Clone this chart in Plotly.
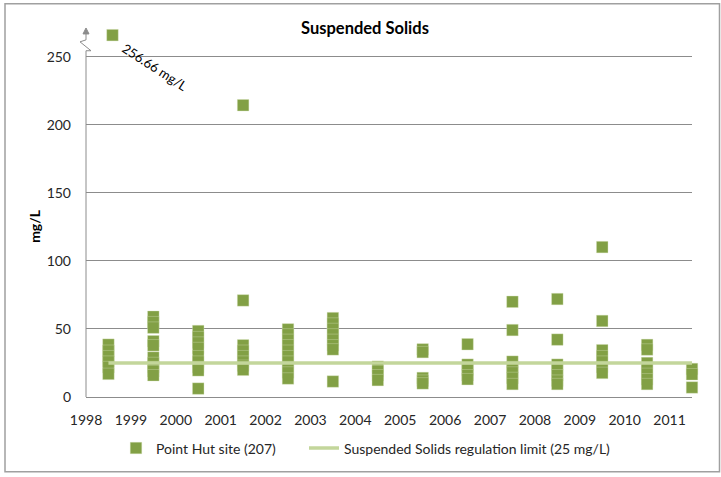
import plotly.graph_objects as go

# ---- data ----
years = [1998, 1999, 2000, 2001, 2002, 2003, 2004, 2005, 2006, 2007, 2008, 2009, 2010, 2011]
vals_1998 = [38.5, 34, 30, 26, 22, 17]
vals_1999 = [59, 55, 51, 41, 38, 29, 25, 22, 19, 16]
vals_2000 = [48.5, 44, 40, 36, 30, 26, 22, 19.6, 6.2]
vals_2001 = [214.5, 71, 38, 34, 30, 26, 23, 20]
vals_2002 = [49.7, 46, 42, 38, 34, 30, 26, 22, 18, 13.6]
vals_2003 = [58, 54, 50, 46, 42, 38, 35, 11.4]
vals_2004 = [22.3, 19, 16, 12.4]
vals_2005 = [35, 33, 14, 12, 10]
vals_2006 = [38.8, 23.8, 20, 16, 13.1]
vals_2007 = [70, 49.2, 26, 22, 18, 14, 9.5]
vals_2008 = [72, 42.2, 23.8, 20, 16, 12, 9.5]
vals_2009 = [110.2, 55.9, 34.4, 30, 26, 22, 17.7]
vals_2010 = [38.3, 34.9, 25, 21, 17, 13, 9.5]
vals_2011 = [20.6, 16.7, 7]
yearly_values = [vals_1998, vals_1999, vals_2000, vals_2001, vals_2002, vals_2003, vals_2004,
                 vals_2005, vals_2006, vals_2007, vals_2008, vals_2009, vals_2010, vals_2011]

# off-scale sample (drawn above the axis break)
outlier_year = 1998.59
outlier_plotted = 266
outlier_label = "256.66 mg/L"

limit_value = 25
limit_years = [1998.5, 2011.5]

y_ticks = [0, 50, 100, 150, 200, 250]
x_ticks = years

# ---- build series ----
xs, ys = [], []
for yr, vals in zip(years, yearly_values):
    for v in vals:
        xs.append(yr + 0.5)
        ys.append(v)
xs.append(outlier_year)
ys.append(outlier_plotted)

W, H = 721, 477
L, R, T, B = 86, 29, 27, 76
PW, PH = W - L - R, H - T - B
Y_TOP = 272


def px(x):
    return (x - L) / PW


def py(y):
    return (H - B - y) / PH


FONT = "Lato"
MARK = "#82A045"
LIMIT = "#C3D69B"
GRID = "#8C8C8C"
TXT = "#262626"

fig = go.Figure()
fig.add_trace(go.Scatter(
    x=xs, y=ys, mode="markers", name="Point Hut site (207)",
    marker=dict(symbol="square", size=11.5, color=MARK,
                line=dict(width=0.6, color="rgba(215,228,189,0.6)")),
    cliponaxis=False, legend="legend",
))
fig.add_trace(go.Scatter(
    x=limit_years, y=[limit_value] * len(limit_years), mode="lines",
    name="Suspended Solids regulation limit (25 mg/L)",
    line=dict(color=LIMIT, width=3.5), legend="legend2",
))

legend_common = dict(orientation="h", xanchor="left", yanchor="middle",
                     font=dict(family=FONT, size=14, color=TXT),
                     bgcolor="rgba(0,0,0,0)")

fig.update_layout(
    width=W, height=H,
    margin=dict(l=L, r=R, t=T, b=B),
    paper_bgcolor="white", plot_bgcolor="white",
    font=dict(family=FONT, size=14, color=TXT),
    showlegend=True,
    legend=dict(x=px(116), y=py(453), **legend_common),
    legend2=dict(x=px(304), y=py(453), **legend_common),
    xaxis=dict(range=[1998, 2011.5], tickmode="array", tickvals=x_ticks,
               ticktext=[str(t) for t in x_ticks],
               showgrid=False, zeroline=False, showline=True, linecolor=GRID, linewidth=1,
               ticks="", ticklabelstandoff=10,
               tickfont=dict(family=FONT, size=14, color=TXT)),
    yaxis=dict(range=[0, Y_TOP], tickmode="array", tickvals=y_ticks,
               showgrid=True, gridcolor=GRID, gridwidth=1, zeroline=False,
               showline=False, ticks="",
               ticklabelstandoff=14,
               tickfont=dict(family=FONT, size=14, color=TXT)),
    annotations=[
        dict(text="<b>Suspended Solids</b>", xref="paper", yref="paper",
             x=px(364.5), y=py(28), showarrow=False, xanchor="center", yanchor="middle",
             font=dict(family=FONT, size=16.5, color="#000000")),
        dict(text="<b>mg/L</b>", xref="paper", yref="paper",
             x=px(35), y=py(228), showarrow=False, textangle=-90,
             xanchor="center", yanchor="middle",
             font=dict(family=FONT, size=14, color="#000000")),
        dict(text=outlier_label, xref="paper", yref="paper",
             x=px(155), y=py(67), showarrow=False, textangle=33,
             xanchor="center", yanchor="middle",
             font=dict(family=FONT, size=13, color="#000000")),
    ],
    shapes=[
        # y axis line with break zigzag and arrow
        dict(type="path", xref="paper", yref="paper",
             path=f"M {px(86)},{py(401)} L {px(86)},{py(51)} L {px(91)},{py(51)} "
                  f"L {px(80)},{py(42)} L {px(86)},{py(40)} L {px(86)},{py(31)}",
             line=dict(color=GRID, width=1)),
        dict(type="path", xref="paper", yref="paper",
             path=f"M {px(83)},{py(34)} L {px(86)},{py(28)} L {px(89)},{py(34)} Z",
             line=dict(color=GRID, width=1), fillcolor=GRID),
        # chart border
        dict(type="rect", xref="paper", yref="paper",
             x0=px(5), y0=py(476.5), x1=px(719.5), y1=py(3.5),
             line=dict(color="#A0A0A0", width=1.5)),
    ],
)

fig.write_html("out.html", config={"displayModeBar": False},
               post_script="document.body.style.margin='0';")
